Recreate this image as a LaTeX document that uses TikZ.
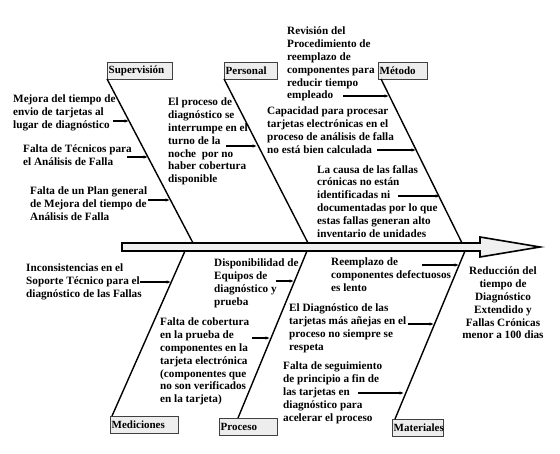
\documentclass[tikz,border=0pt]{standalone}
\usepackage{fontspec}
\setmainfont{Liberation Serif}
\usetikzlibrary{arrows.meta, calc}

\begin{document}
\begin{tikzpicture}[x=1pt, y=-1pt,
  cause/.style={anchor=north west, inner sep=0pt, align=left,
    font=\fontsize{11.2}{12.8}\selectfont\bfseries},
  effect/.style={cause, anchor=north, align=center},
  cat/.style={draw=black!75, fill=black!7, anchor=north west, minimum height=16.5pt,
    inner xsep=1.5pt, inner ysep=0pt, align=left, font=\fontsize{11}{12}\selectfont\bfseries},
  bone/.style={line width=1.4pt},
  arr/.style={-{Latex[length=4.5pt,width=3.5pt]}, line width=1.1pt},
  spine/.style={draw, line width=1.6pt, fill=black!6}
]
\useasboundingbox (0,0) rectangle (560,453);

% Spine
\draw[spine] (122,243) -- (480,243) -- (480,237) -- (540,247) -- (480,257)
  -- (480,251) -- (122,251) -- cycle;
\coordinate (supS) at (193,243);
\coordinate (perS) at (308,243);
\coordinate (metS) at (462,243);
\coordinate (medS) at (185,251);
\coordinate (proS) at (307,251);
\coordinate (matS) at (465,251);

% Categories
\node[cat, text width=62pt] (sup) at (107,62) {Supervisión};
\node[cat, text width=50pt] (per) at (224,62) {Personal};
\node[cat, text width=46pt] (met) at (378,62) {Método};
\node[cat, text width=65pt] (med) at (110,416) {Mediciones};
\node[cat, text width=55pt] (pro) at (219,418) {Proceso};
\node[cat, text width=48pt] (mat) at (392,419) {Materiales};

% Bones
\draw[bone] (sup.south west) -- (supS);
\draw[bone] (per.south west) -- (perS);
\draw[bone] ($(met.south west)+(3,0)$) -- (metS);
\draw[bone] (medS) -- ($(med.north west)+(2,0)$);
\draw[bone] (proS) -- ($(pro.north west)+(19,0)$);
\draw[bone] (matS) -- ($(mat.north west)+(3,0)$);

% Causes
\node[cause] (c1) at (13,95) {Mejora del tiempo de\\envio de tarjetas al\\lugar de diagnóstico};
\node[cause] (c2) at (23,145) {Falta de Técnicos para\\el Análisis de Falla};
\node[cause] (c3) at (30,187) {Falta de un Plan general\\de Mejora del tiempo de\\Análisis de Falla};
\node[cause] (c4) at (168,98) {El proceso de\\diagnóstico se\\interrumpe en el\\turno de la\\noche~ por no\\haber cobertura\\disponible};
\node[cause] (c5) at (287,27) {Revisión del\\Procedimiento de\\reemplazo de\\componentes para\\reducir tiempo\\empleado};
\node[cause] (c6) at (267,107) {Capacidad para procesar\\tarjetas electrónicas en el\\proceso de análisis de falla\\no está bien calculada};
\node[cause] (c7) at (317,165) {La causa de las fallas\\crónicas no están\\identificadas ni\\documentadas por lo que\\estas fallas generan alto\\inventario de unidades};
\node[cause] (c8) at (26,264) {Inconsistencias en el\\Soporte Técnico para el\\diagnóstico de las Fallas};
\node[cause] (c9) at (160,318) {Falta de cobertura\\en la prueba de\\componentes en la\\tarjeta electrónica\\(componentes que\\no son verificados\\en la tarjeta)};
\node[cause] (c10) at (214,259) {Disponibilidad de\\Equipos de\\diagnóstico y\\prueba};
\node[cause] (c11) at (331,258) {Reemplazo de\\componentes defectuosos\\es lento};
\node[cause] (c12) at (289,304) {El Diagnóstico de las\\tarjetas más añejas en el\\proceso no siempre se\\respeta};
\node[cause] (c13) at (283,362) {Falta de seguimiento\\de principio a fin de\\las tarjetas en\\diagnóstico para\\acelerar el proceso};

% Effect
\node[effect] (eff) at (503,267) {Reducción del\\tiempo de\\Diagnóstico\\Extendido y\\Fallas Crónicas\\menor a 100 dias};

% Cause arrows
\coordinate (a1) at (113,121);  \coordinate (b1) at (129,121);
\coordinate (a2) at (127,157);  \coordinate (b2) at (148,157);
\coordinate (a3) at (148,200);  \coordinate (b3) at (170,200);
\coordinate (a4) at (226,146);  \coordinate (b4) at (257,146);
\coordinate (a5) at (343,96);   \coordinate (b5) at (389,96);
\coordinate (a6) at (377,150);  \coordinate (b6) at (416,150);
\coordinate (a7) at (398,196);  \coordinate (b7) at (440,196);
\coordinate (a8) at (140,282);  \coordinate (b8) at (171,282);
\coordinate (a9) at (252,338);  \coordinate (b9) at (270,338);
\coordinate (a10) at (276,281); \coordinate (b10) at (294,281);
\coordinate (a11) at (422,265); \coordinate (b11) at (459,265);
\coordinate (a12) at (408,324); \coordinate (b12) at (434,324);
\coordinate (a13) at (358,393); \coordinate (b13) at (404,393);
\foreach \i in {1,...,13}
  \draw[arr] (a\i) -- (b\i);

\end{tikzpicture}
\end{document}
